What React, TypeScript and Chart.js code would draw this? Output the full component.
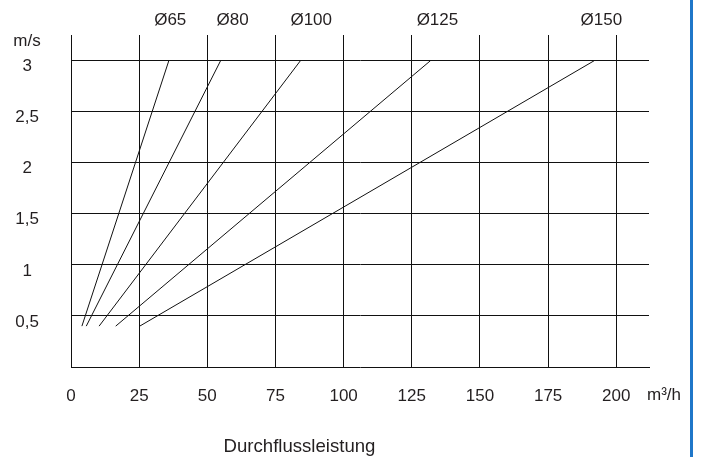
import React, { useEffect, useRef } from 'react';
import { Chart, registerables } from 'chart.js';

Chart.register(...registerables);

// ---- data ----
const velocity = [0.4, 3]; // m/s, start and end of every line
const flowD65 = [4.0, 35.9];
const flowD80 = [5.6, 54.9];
const flowD100 = [10.3, 84.2];
const flowD125 = [16.4, 131.9];
const flowD150 = [25.2, 192.0];

const diameterNames = ['Ø65', 'Ø80', 'Ø100', 'Ø125', 'Ø150'];
const diameterLabelPos = [36.4, 59.3, 88.1, 134.4, 194.5];

const xTicks = [0, 25, 50, 75, 100, 125, 150, 175, 200];
const yTicks = [0.5, 1, 1.5, 2, 2.5, 3];
const yTickLabels = ['0,5', '1', '1,5', '2', '2,5', '3'];

const xUnit = 'm³/h';
const yUnit = 'm/s';
const xTitle = 'Durchflussleistung';

const FONT = '"Liberation Sans", Arial, Helvetica, sans-serif';
const TEXT = '#231f20';
const LINE = '#111111';
const TICK_SIZE = 17;

const series = [flowD65, flowD80, flowD100, flowD125, flowD150];

const unitLabels = {
  id: 'unitLabels',
  afterDraw(chart: any) {
    const { ctx, chartArea } = chart;
    ctx.save();
    ctx.fillStyle = TEXT;
    ctx.font = `${TICK_SIZE}px ${FONT}`;
    ctx.textBaseline = 'middle';
    ctx.textAlign = 'center';
    ctx.fillText(yUnit, 27, chartArea.top + 6);
    ctx.textAlign = 'left';
    ctx.fillText(xUnit, chartArea.right - 2, chartArea.bottom + 28.5);
    ctx.font = `18.6px ${FONT}`;
    ctx.textAlign = 'center';
    ctx.fillText(xTitle, 299.5, 447);
    ctx.restore();
  },
};

const noPad = (s: any) => {
  s.paddingTop = 0;
  s.paddingBottom = 0;
  s.paddingLeft = 0;
  s.paddingRight = 0;
};

export default function App() {
  const ref = useRef<HTMLCanvasElement | null>(null);

  useEffect(() => {
    if (!ref.current) return;
    const chart = new Chart(ref.current, {
      type: 'scatter',
      data: {
        datasets: series.map((flow, i) => ({
          label: diameterNames[i],
          data: flow.map((q, j) => ({ x: q, y: velocity[j] })),
          showLine: true,
          borderColor: LINE,
          borderWidth: 1,
          pointRadius: 0,
          pointHoverRadius: 0,
          fill: false,
        })),
      },
      options: {
        animation: false,
        responsive: false,
        devicePixelRatio: 1,
        layout: { padding: { left: 0, right: 39, top: 0, bottom: 0 } },
        plugins: {
          legend: { display: false },
          tooltip: { enabled: false },
          title: { display: false },
        },
        scales: {
          x: {
            type: 'linear',
            position: 'bottom',
            min: 0,
            max: 212,
            afterBuildTicks: (s: any) => {
              s.ticks = xTicks.map((v) => ({ value: v }));
            },
            afterFit: (s: any) => {
              s.height = 90;
              noPad(s);
            },
            grid: { color: LINE, lineWidth: 1, drawTicks: false },
            border: { display: true, color: LINE, width: 1 },
            ticks: {
              autoSkip: false,
              maxRotation: 0,
              padding: 19,
              color: TEXT,
              font: { family: FONT, size: TICK_SIZE },
              callback: (v: any) => String(v),
            },
          },
          x2: {
            type: 'linear',
            position: 'top',
            min: 0,
            max: 212,
            afterBuildTicks: (s: any) => {
              s.ticks = diameterLabelPos.map((v) => ({ value: v }));
            },
            afterFit: (s: any) => {
              s.height = 35;
              noPad(s);
            },
            grid: { display: false, drawTicks: false },
            border: { display: false },
            ticks: {
              autoSkip: false,
              maxRotation: 0,
              padding: 4,
              color: TEXT,
              font: { family: FONT, size: TICK_SIZE },
              callback: (_v: any, i: number) => diameterNames[i],
            },
          },
          y: {
            type: 'linear',
            min: 0,
            max: 3.25,
            afterBuildTicks: (s: any) => {
              s.ticks = yTicks.map((v) => ({ value: v }));
            },
            afterFit: (s: any) => {
              s.width = 71;
              noPad(s);
            },
            grid: { color: LINE, lineWidth: 1, drawTicks: false },
            border: { display: true, color: LINE, width: 1 },
            ticks: {
              autoSkip: false,
              crossAlign: 'center',
              padding: 32,
              labelOffset: 6,
              color: TEXT,
              font: { family: FONT, size: TICK_SIZE },
              callback: (_v: any, i: number) => yTickLabels[i],
            },
          },
        },
      },
      plugins: [unitLabels],
    } as any);
    return () => chart.destroy();
  }, []);

  return (
    <div
      style={{
        position: 'fixed',
        left: 0,
        top: 0,
        width: 701,
        height: 457,
        background: '#ffffff',
        overflow: 'hidden',
      }}
    >
      <canvas ref={ref} width={688} height={457} style={{ display: 'block', width: 688, height: 457 }} />
      <div
        style={{
          position: 'absolute',
          left: 690,
          top: 0,
          width: 3,
          height: 457,
          background: '#1f77c9',
        }}
      />
    </div>
  );
}
